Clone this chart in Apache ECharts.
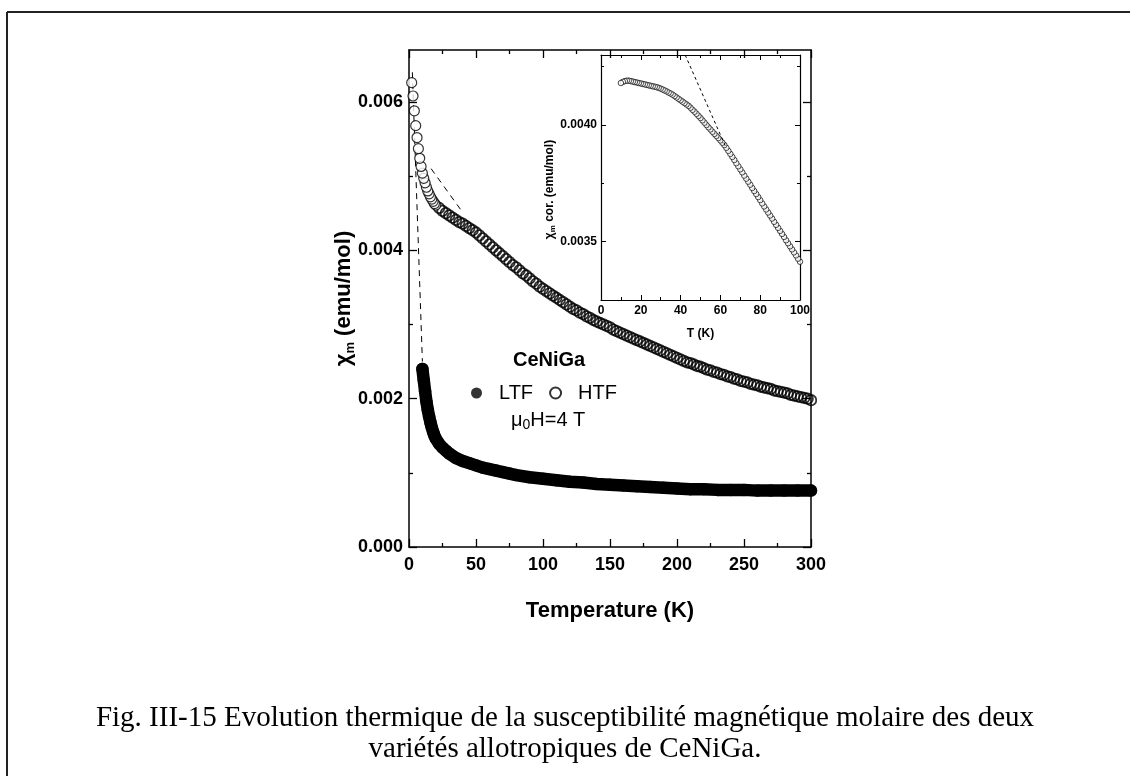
<!DOCTYPE html>
<html><head><meta charset="utf-8">
<script src="https://cdn.jsdelivr.net/npm/echarts@6/dist/echarts.min.js"></script>
<style>html,body{margin:0;padding:0;background:#fff}#c{width:1130px;height:776px}</style>
</head><body><div id="c"></div>
<script>
// ---------- data ----------
// HTF (open circles), main plot: [T (K), chi_m (emu/mol)]
const htfData = [
[2,0.00626],[3,0.00608],[4,0.00588],[5,0.00568],[6,0.00552],[7,0.00537],[8,0.00524],[9,0.00513],[10,0.00504],
[11,0.00497],[12,0.00491],[13,0.00485],[14,0.00480],[15,0.00476],[16,0.00472],[17,0.00469],[18,0.00466],[19,0.00463],[20,0.00461],
[22.5,0.00457],[25,0.00453],[27.5,0.00450],[30,0.00447],[32.5,0.00444],[35,0.00441],[37.5,0.00438],[40,0.00436],[42.5,0.00433],
[45,0.00430],[47.5,0.00427],[50,0.00424],[52.5,0.00420],[55,0.00416],[57.5,0.00412],[60,0.00408],[62.5,0.00404],[65,0.00400],
[67.5,0.00396],[70,0.00392],[72.5,0.00388],[75,0.00384],[77.5,0.00380],[80,0.00377],[82.5,0.00373],[85,0.00369],[87.5,0.00366],
[90,0.00362],[92.5,0.00358],[95,0.00355],[97.5,0.00351],[100,0.00348],[102.5,0.00345],[105,0.00342],[107.5,0.00339],[110,0.00336],
[112.5,0.00333],[115,0.00330],[117.5,0.00327],[120,0.00324],[122.5,0.00321],[125,0.00319],[127.5,0.00316],[130,0.00314],
[132.5,0.00311],[135,0.00309],[137.5,0.00306],[140,0.00304],[142.5,0.00302],[145,0.00300],[147.5,0.00298],[150,0.00296],
[152.5,0.00293],[155,0.00291],[157.5,0.00289],[160,0.00287],[162.5,0.00285],[165,0.00283],[167.5,0.00281],[170,0.00279],
[172.5,0.00277],[175,0.00275],[177.5,0.00273],[180,0.00271],[182.5,0.00269],[185,0.00267],[187.5,0.00265],[190,0.00263],
[192.5,0.00261],[195,0.00259],[197.5,0.00257],[200,0.00255],[202.5,0.00253],[205,0.00251],[207.5,0.00249],[210,0.00248],
[212.5,0.00246],[215,0.00244],[217.5,0.00243],[220,0.00241],[222.5,0.00239],[225,0.00238],[227.5,0.00236],[230,0.00235],
[232.5,0.00233],[235,0.00232],[237.5,0.00230],[240,0.00229],[242.5,0.00227],[245,0.00226],[247.5,0.00224],[250,0.00223],
[252.5,0.00222],[255,0.00220],[257.5,0.00219],[260,0.00218],[262.5,0.00216],[265,0.00215],[267.5,0.00214],[270,0.00213],
[272.5,0.00211],[275,0.00210],[277.5,0.00209],[280,0.00208],[282.5,0.00207],[285,0.00205],[287.5,0.00204],[290,0.00203],
[292.5,0.00202],[295,0.00201],[297.5,0.00200],[300,0.00198]
];
// LTF (filled circles), main plot
const ltfData = [
[10,0.00240],[11,0.00225],[12,0.00210],[13,0.00196],[14,0.00185],[15,0.00176],[16,0.00168],[17,0.00161],[18,0.00155],
[19,0.00150],[20,0.00146],[22.5,0.00139],[25,0.00134],[27.5,0.00130],[30,0.00126],[35,0.00120],[40,0.00116],[45,0.00113],
[50,0.00110],[55,0.00107],[60,0.00105],[65,0.00103],[70,0.00101],[75,0.00099],[80,0.00097],[90,0.00094],[100,0.00092],
[110,0.00090],[120,0.00088],[130,0.00087],[140,0.00085],[150,0.00084],[160,0.00083],[170,0.00082],[180,0.00081],
[190,0.00080],[200,0.00079],[210,0.00078],[220,0.00078],[230,0.00077],[240,0.00077],[250,0.00077],[260,0.00076],
[270,0.00076],[280,0.00076],[290,0.00076],[300,0.00076]
];
// Inset: chi_m corrected vs T
const insetData = [
[10,0.004180],[11,0.004185],[12,0.004188],[13,0.004190],[14,0.004190],[15,0.004188],[16,0.004186],[17,0.004184],[18,0.004182],
[19,0.004180],[20,0.004178],[21,0.004176],[22,0.004174],[23,0.004172],[24,0.004170],[25,0.004168],[26,0.004166],[27,0.004164],
[28,0.004162],[29,0.004159],[30,0.004156],[31,0.004152],[32,0.004148],[33,0.004144],[34,0.004139],[35,0.004135],[36,0.004130],
[37,0.004124],[38,0.004118],[39,0.004112],[40,0.004106],[41,0.004100],[42,0.004094],[43,0.004088],[44,0.004082],[45,0.004074],
[46,0.004065],[47,0.004057],[48,0.004048],[49,0.004039],[50,0.004030],[51,0.004020],[52,0.004010],[53,0.004000],[54,0.003990],
[55,0.003981],[56,0.003971],[57,0.003962],[58,0.003953],[59,0.003944],[60,0.003934],[61,0.003924],[62,0.003914],[63,0.003902],
[64,0.003889],[65,0.003876],[66,0.003863],[67,0.003850],[68,0.003836],[69,0.003823],[70,0.003810],[71,0.003797],[72,0.003783],
[73,0.003770],[74,0.003757],[75,0.003744],[76,0.003730],[77,0.003717],[78,0.003704],[79,0.003691],[80,0.003678],[81,0.003664],
[82,0.003651],[83,0.003638],[84,0.003625],[85,0.003612],[86,0.003599],[87,0.003585],[88,0.003572],[89,0.003559],[90,0.003546],
[91,0.003533],[92,0.003520],[93,0.003506],[94,0.003493],[95,0.003480],[96,0.003467],[97,0.003454],[98,0.003441],[99,0.003427],
[100,0.003414]
];
// dashed guide lines
const dashMainA = [[2.5,0.0064],[10,0.0025]];
const dashMainB = [[16.5,0.0051],[40.5,0.0045]];
const dashInset = [[42.3,0.0043],[63,0.0039]];
// tick values
const mainYTicks = [0,0.002,0.004,0.006];
const mainYMinor = [0.001,0.003,0.005];
const insetYTicks = [0.0035,0.0040];
const insetYMinor = [0.00375,0.00425];
// texts
const captionLines = ['Fig. III-15 Evolution thermique de la susceptibilité magnétique molaire des deux','variétés allotropiques de CeNiGa.'];

const SANS = "'Liberation Sans', Arial, sans-serif";
const SERIF = "'Liberation Serif', 'Times New Roman', serif";
const black = '#000';

function axisBase(extra){
  return Object.assign({
    type:'value', splitLine:{show:false},
    axisLine:{show:true,onZero:false,lineStyle:{color:black,width:1.5}},
    axisTick:{show:true,inside:true,length:8,lineStyle:{color:black,width:1.3}},
    minorTick:{show:true,splitNumber:2,length:4,lineStyle:{color:black,width:1.3}},
    axisLabel:{show:false}
  }, extra);
}
const mainLabel = {show:true,color:black,fontFamily:SANS,fontWeight:'bold',fontSize:18};
const insetLabel = {show:true,color:black,fontFamily:SANS,fontWeight:'bold',fontSize:12};
const inTick = (len, vals, w) => ({show:true,inside:true,length:len,customValues:vals,lineStyle:{color:black,width:w}});

const chart = echarts.init(document.getElementById('c'),null,{renderer:'canvas'});
chart.setOption({
  animation:false,
  backgroundColor:'#fff',
  grid:[
    {left:409,top:50,width:402,height:497,containLabel:false},
    {left:601,top:55,width:199,height:245,containLabel:false,show:true,backgroundColor:'#fff',borderWidth:0}
  ],
  xAxis:[
    axisBase({gridIndex:0,position:'bottom',min:0,max:300,interval:50,
      axisLabel:Object.assign({margin:9},mainLabel),
      name:'Temperature (K)',nameLocation:'middle',nameGap:53,
      nameTextStyle:{color:black,fontFamily:SANS,fontWeight:'bold',fontSize:22}}),
    axisBase({gridIndex:0,position:'top',min:0,max:300,interval:50}),
    axisBase({gridIndex:1,position:'bottom',min:0,max:100,interval:20,
      axisTick:{show:true,inside:true,length:5,lineStyle:{color:black,width:1}},
      minorTick:{show:true,splitNumber:2,length:3,lineStyle:{color:black,width:1}},
      axisLine:{show:true,onZero:false,lineStyle:{color:black,width:1.2}},
      axisLabel:Object.assign({margin:5},insetLabel),
      name:'T (K)',nameLocation:'middle',nameGap:28,
      nameTextStyle:{color:black,fontFamily:SANS,fontWeight:'bold',fontSize:12}}),
    axisBase({gridIndex:1,position:'top',min:0,max:100,interval:20,
      axisTick:{show:true,inside:true,length:5,lineStyle:{color:black,width:1}},
      minorTick:{show:true,splitNumber:2,length:3,lineStyle:{color:black,width:1}},
      axisLine:{show:true,onZero:false,lineStyle:{color:black,width:1.2}}})
  ],
  yAxis:[
    axisBase({gridIndex:0,position:'left',min:0,max:0.0067,
      axisTick:inTick(8,mainYTicks,1.3),minorTick:{show:false},
      axisLabel:Object.assign({margin:6,customValues:mainYTicks,formatter:v=>v.toFixed(3)},mainLabel),
      name:'{a|χ}{s|m}{a| (emu/mol)}',nameLocation:'middle',nameGap:52,nameRotate:90,nameMoveOverlap:false,
      nameTextStyle:{color:black,rich:{
        a:{fontFamily:SANS,fontWeight:'bold',fontSize:22,lineHeight:26,color:black},
        s:{fontFamily:SANS,fontWeight:'bold',fontSize:13,lineHeight:14,verticalAlign:'bottom',color:black}}}}),
    axisBase({gridIndex:0,position:'right',min:0,max:0.0067,axisTick:inTick(8,mainYTicks,1.3),minorTick:{show:false}}),
    axisBase({gridIndex:0,position:'left',min:0,max:0.0067,axisLine:{show:false,onZero:false},axisTick:inTick(4,mainYMinor,1.3),minorTick:{show:false}}),
    axisBase({gridIndex:0,position:'right',min:0,max:0.0067,axisLine:{show:false,onZero:false},axisTick:inTick(4,mainYMinor,1.3),minorTick:{show:false}}),
    axisBase({gridIndex:1,position:'left',min:0.00325,max:0.0043,
      axisLine:{show:true,onZero:false,lineStyle:{color:black,width:1.2}},
      axisTick:inTick(5,insetYTicks,1),minorTick:{show:false},
      axisLabel:Object.assign({margin:4,customValues:insetYTicks,formatter:v=>v.toFixed(4)},insetLabel),
      name:'{a|χ}{s|m}{a| cor. (emu/mol)}',nameLocation:'middle',nameGap:44,nameRotate:90,nameMoveOverlap:false,
      nameTextStyle:{color:black,padding:[0,24,0,0],rich:{
        a:{fontFamily:SANS,fontWeight:'bold',fontSize:12,lineHeight:14,color:black},
        s:{fontFamily:SANS,fontWeight:'bold',fontSize:8,lineHeight:8,verticalAlign:'bottom',color:black}}}}),
    axisBase({gridIndex:1,position:'right',min:0.00325,max:0.0043,
      axisLine:{show:true,onZero:false,lineStyle:{color:black,width:1.2}},
      axisTick:inTick(5,insetYTicks,1),minorTick:{show:false}}),
    axisBase({gridIndex:1,position:'left',min:0.00325,max:0.0043,axisLine:{show:false,onZero:false},
      axisTick:inTick(3,insetYMinor,1),minorTick:{show:false}}),
    axisBase({gridIndex:1,position:'right',min:0.00325,max:0.0043,axisLine:{show:false,onZero:false},
      axisTick:inTick(3,insetYMinor,1),minorTick:{show:false}})
  ],
  legend:{
    left:466,top:378,orient:'horizontal',itemWidth:11,itemHeight:11,itemGap:16,
    data:['LTF','HTF'],
    textStyle:{color:black,fontFamily:SANS,fontSize:20,padding:[0,0,0,12]}
  },
  series:[
    {type:'line',name:'dashA',xAxisIndex:0,yAxisIndex:0,data:dashMainA,symbol:'none',silent:true,
      lineStyle:{color:black,width:1,type:[6,5]},z:1},
    {type:'line',name:'dashB',xAxisIndex:0,yAxisIndex:0,data:dashMainB,symbol:'none',silent:true,
      lineStyle:{color:black,width:1,type:[6,5]},z:1},
    {type:'line',name:'LTF band',xAxisIndex:0,yAxisIndex:0,data:ltfData,symbol:'none',
      lineStyle:{color:black,width:12.5,cap:'round',join:'round'},z:2},
    {type:'scatter',name:'LTF',xAxisIndex:0,yAxisIndex:0,data:ltfData,symbol:'circle',symbolSize:12.5,
      itemStyle:{color:black},z:3},
    {type:'scatter',name:'HTF high',xAxisIndex:0,yAxisIndex:0,data:htfData.filter(p=>p[0]>20).reverse(),symbol:'circle',symbolSize:10.5,
      itemStyle:{color:'rgba(0,0,0,0)',borderColor:black,borderWidth:1.8},z:4},
    {type:'scatter',name:'HTF',xAxisIndex:0,yAxisIndex:0,data:htfData.filter(p=>p[0]<=20).reverse(),symbol:'circle',symbolSize:10,
      itemStyle:{color:'#fff',borderColor:black,borderWidth:1.2},z:5},
    {type:'scatter',name:'inset',xAxisIndex:2,yAxisIndex:4,data:insetData.slice().reverse(),symbol:'circle',symbolSize:5.5,
      itemStyle:{color:'#fff',borderColor:black,borderWidth:0.9},z:4},
    {type:'line',name:'dashInset',xAxisIndex:2,yAxisIndex:4,data:dashInset,symbol:'none',silent:true,
      lineStyle:{color:black,width:1,type:[3,3]},z:5}
  ],
  graphic:[
    {type:'line',shape:{x1:7,y1:12,x2:1130,y2:12},style:{stroke:'#222',lineWidth:2}},
    {type:'line',shape:{x1:7,y1:12,x2:7,y2:776},style:{stroke:'#222',lineWidth:2}},
    {type:'text',left:513,top:350,style:{text:'CeNiGa',fill:black,font:"bold 20px "+SANS}},
    {type:'text',left:511,top:410,style:{text:'{a|μ}{s|0}{a|H=4 T}',fill:black,
      rich:{a:{fontFamily:SANS,fontSize:20,lineHeight:24,fill:black},
            s:{fontFamily:SANS,fontSize:14,lineHeight:14,verticalAlign:'bottom',fill:black}}}},
    {type:'text',x:565,y:718,style:{text:captionLines[0],fill:black,font:"29px "+SERIF,textAlign:'center',textVerticalAlign:'middle'}},
    {type:'text',x:565,y:749,style:{text:captionLines[1],fill:black,font:"29px "+SERIF,textAlign:'center',textVerticalAlign:'middle'}}
  ]
});
</script>
</body></html>
